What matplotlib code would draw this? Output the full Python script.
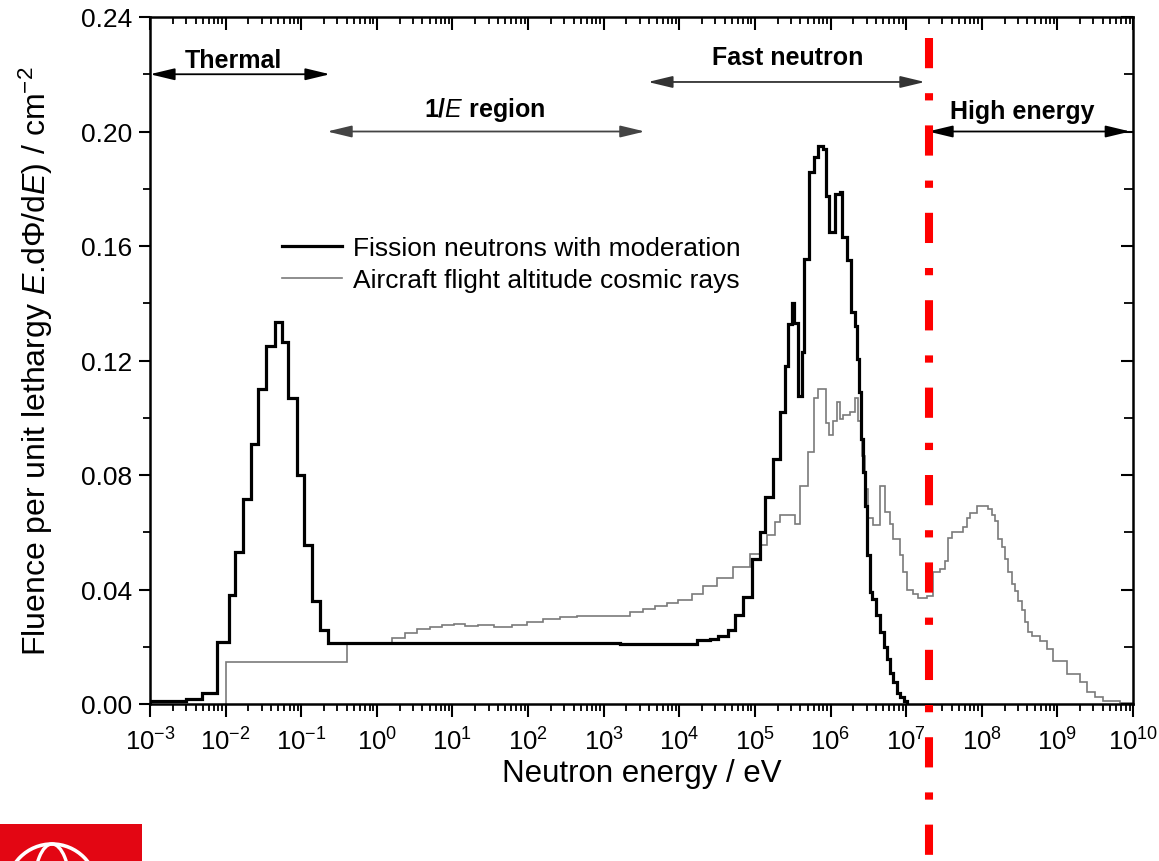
import numpy as np
import matplotlib
matplotlib.use("Agg")
import matplotlib.pyplot as plt
from matplotlib.ticker import LogLocator, MultipleLocator, FormatStrFormatter, NullFormatter
from matplotlib.lines import Line2D
from matplotlib.patches import Rectangle, Circle, Ellipse, Arc

# ---------------- data ----------------
# Fission neutrons with moderation: log10(E/eV) bin edges and values
fission_log_edges = [-3.0, -2.524, -2.312, -2.114, -1.955, -1.876, -1.770, -1.664, -1.572, -1.466,
                     -1.347, -1.254, -1.175, -1.056, -0.963, -0.858, -0.752, -0.646, 1.496, 3.215,
                     4.234, 4.405, 4.511, 4.644, 4.736, 4.842, 4.961, 5.067, 5.133, 5.239,
                     5.331, 5.397, 5.437, 5.490, 5.516, 5.569, 5.622, 5.648, 5.715, 5.781,
                     5.834, 5.900, 5.940, 5.979, 6.058, 6.125, 6.151, 6.217, 6.270, 6.323,
                     6.349, 6.376, 6.402, 6.429, 6.455, 6.482, 6.521, 6.548, 6.601, 6.653,
                     6.706, 6.746, 6.786, 6.825, 6.878, 6.918, 6.971, 7.010]
fission_values = [0.0009, 0.0017, 0.0038, 0.0216, 0.038, 0.053, 0.0716, 0.091, 0.110, 0.125,
                  0.1334, 0.1265, 0.107, 0.080, 0.0555, 0.036, 0.026, 0.0213, 0.0212, 0.0210,
                  0.0222, 0.0227, 0.0238, 0.026, 0.031, 0.0373, 0.0507, 0.060, 0.0723, 0.0856,
                  0.102, 0.118, 0.1327, 0.140, 0.133, 0.1076, 0.123, 0.1555, 0.186, 0.191,
                  0.195, 0.194, 0.1775, 0.165, 0.178, 0.179, 0.163, 0.155, 0.137, 0.132,
                  0.1205, 0.109, 0.0926, 0.081, 0.069, 0.052, 0.039, 0.0367, 0.031, 0.025,
                  0.020, 0.0157, 0.011, 0.0077, 0.004, 0.0024, 0.001]

# Aircraft flight altitude cosmic rays
cosmic_log_edges = [-2.0, -0.395, 0.200, 0.372, 0.531, 0.703, 0.861, 1.020, 1.166, 1.337,
                    1.549, 1.787, 1.985, 2.197, 2.422, 2.647, 3.348, 3.519, 3.678, 3.837,
                    3.982, 4.167, 4.313, 4.498, 4.710, 4.934, 5.067, 5.159, 5.265, 5.331,
                    5.529, 5.596, 5.701, 5.781, 5.834, 5.940, 5.979, 6.032, 6.085, 6.125,
                    6.164, 6.257, 6.323, 6.363, 6.415, 6.455, 6.495, 6.561, 6.653, 6.720,
                    6.786, 6.825, 6.918, 6.958, 7.010, 7.090, 7.156, 7.275, 7.354, 7.447,
                    7.513, 7.553, 7.606, 7.751, 7.804, 7.844, 7.936, 8.082, 8.135, 8.174,
                    8.214, 8.267, 8.307, 8.346, 8.399, 8.439, 8.478, 8.531, 8.571, 8.611,
                    8.664, 8.769, 8.862, 8.941, 9.126, 9.298, 9.391, 9.497, 9.602, 9.827,
                    10.0]
cosmic_values = [0.0147, 0.0213, 0.023, 0.0248, 0.0262, 0.0268, 0.0276, 0.028, 0.0272, 0.0276,
                 0.0270, 0.0276, 0.0286, 0.0297, 0.0303, 0.0308, 0.0321, 0.0332, 0.0343, 0.0352,
                 0.0364, 0.0384, 0.0412, 0.044, 0.048, 0.0524, 0.0555, 0.059, 0.0636, 0.066,
                 0.063, 0.076, 0.088, 0.107, 0.110, 0.098, 0.094, 0.099, 0.1055, 0.0995,
                 0.101, 0.102, 0.107, 0.099, 0.0866, 0.075, 0.065, 0.0625, 0.076, 0.067,
                 0.063, 0.0577, 0.052, 0.046, 0.040, 0.0384, 0.037, 0.0377, 0.046, 0.047,
                 0.050, 0.058, 0.060, 0.0618, 0.065, 0.0667, 0.069, 0.068, 0.066, 0.064,
                 0.0577, 0.055, 0.0507, 0.046, 0.042, 0.0395, 0.036, 0.033, 0.0286, 0.025,
                 0.0238, 0.022, 0.0192, 0.015, 0.0105, 0.0077, 0.0042, 0.0024, 0.001, 0.0005]

series_labels = ["Fission neutrons with moderation", "Aircraft flight altitude cosmic rays"]

# Energy regions: (label, start eV, end eV, arrow height)
region_labels = ["Thermal", "1/$\\mathbf{\\mathit{E}}$ region", "Fast neutron", "High energy"]
region_start = [1e-3, 0.22, 3.85e3, 1.95e7]
region_end = [0.24, 3.5e3, 1.77e7, 9.2e9]
region_arrow_y = [0.220, 0.200, 0.2173, 0.200]
region_text_x = [1.26e-2, 27.0, 2.7e5, 3.4e8]
region_text_y = [0.2225, 0.2055, 0.2235, 0.2048]
region_arrow_color = ["black", "#444444", "#333333", "black"]

cutoff_energy = 2e7  # eV

# ---------------- style ----------------
plt.rcParams["font.family"] = ["Liberation Sans", "DejaVu Sans"]
plt.rcParams["mathtext.fontset"] = "custom"
plt.rcParams["mathtext.rm"] = "Liberation Sans"
plt.rcParams["mathtext.it"] = "Liberation Sans:italic"
plt.rcParams["mathtext.bf"] = "Liberation Sans:bold:italic"

W, H = 1159, 862
fig = plt.figure(figsize=(W / 100, H / 100), dpi=100)
pos = [150 / W, 1 - 705 / H, 983 / W, 687 / H]
ax = fig.add_axes(pos)
ax.set_xscale("log")
ax.set_xlim(1e-3, 1e10)
ax.set_ylim(0, 0.24)

ax.stairs(cosmic_values, 10 ** np.array(cosmic_log_edges), color="#7a7a7a", lw=1.2, zorder=2)
ax.stairs(fission_values, 10 ** np.array(fission_log_edges), color="black", lw=2.3, zorder=3)

handles = [Line2D([], [], color="black", lw=2.3), Line2D([], [], color="#7a7a7a", lw=1.2)]
ax.legend(handles, series_labels, loc="upper left", bbox_to_anchor=(0.134, 0.681),
          frameon=False, fontsize=19, handlelength=2.3, handletextpad=0.4,
          borderaxespad=0, borderpad=0, labelspacing=0.3)

# ticks
ax.xaxis.set_major_locator(LogLocator(base=10, numticks=30))
ax.xaxis.set_minor_locator(LogLocator(base=10, subs=np.arange(2, 10), numticks=300))
ax.xaxis.set_minor_formatter(NullFormatter())
ax.yaxis.set_major_locator(MultipleLocator(0.04))
ax.yaxis.set_minor_locator(MultipleLocator(0.02))
ax.yaxis.set_major_formatter(FormatStrFormatter("%.2f"))
ax.tick_params(which="major", direction="out", length=8, width=1.5, labelsize=19,
               top=False, right=False)
ax.tick_params(axis="y", which="major", pad=5)
ax.tick_params(axis="x", which="major", length=9.5, pad=7, labelsize=18.5)
ax.tick_params(which="minor", direction="out", length=5, width=1.3, top=False, right=False)
for s in ax.spines.values():
    s.set_linewidth(1.8)

ax2 = fig.add_axes(pos, frameon=False)
ax2.set_xscale("log")
ax2.set_xlim(ax.get_xlim())
ax2.set_ylim(ax.get_ylim())
ax2.xaxis.set_major_locator(LogLocator(base=10, numticks=30))
ax2.xaxis.set_minor_locator(LogLocator(base=10, subs=np.arange(2, 10), numticks=300))
ax2.yaxis.set_major_locator(MultipleLocator(0.04))
ax2.yaxis.set_minor_locator(MultipleLocator(0.02))
ax2.tick_params(which="both", direction="in", top=True, right=True, bottom=False, left=False,
                labeltop=False, labelright=False, labelbottom=False, labelleft=False)
ax2.tick_params(which="major", length=9, width=1.5)
ax2.tick_params(which="minor", length=5, width=1.3)
ax2.tick_params(axis="y", which="minor", length=6.5)
ax2.patch.set_visible(False)

# labels
ax.set_xlabel("Neutron energy / eV", fontsize=22.5)
ax.xaxis.set_label_coords(0.5, -0.078)
ax.set_ylabel("Fluence per unit lethargy $E$.d$\\mathit{Φ}$/d$E$) / cm$^{-2}$", fontsize=23)
ax.yaxis.set_label_coords(-0.097, 0.5)

# region arrows and text
for lab, e0, e1, ya, tx, ty, c in zip(region_labels, region_start, region_end, region_arrow_y,
                                      region_text_x, region_text_y, region_arrow_color):
    ax.annotate("", xy=(e1, ya), xytext=(e0, ya),
                arrowprops=dict(arrowstyle="<|-|>,head_length=0.75,head_width=0.18",
                                color=c, lw=1.3, shrinkA=0, shrinkB=0, mutation_scale=20),
                zorder=4, annotation_clip=False)
    ax.text(tx, ty, lab, ha="center", va="baseline", fontsize=18, fontweight="bold")

# red dash-dot cut-off line (extends below axes)
ax.plot([cutoff_energy, cutoff_energy], [0.2325, -0.06], color="#ff0000", lw=5.8,
        linestyle=(0, (3.75, 3.1, 0.9, 3.1)), dash_capstyle="butt", clip_on=False, zorder=6)

# logo (decoration) in pixel overlay
ov = fig.add_axes([0, 0, 1, 1], frameon=False)
ov.set_xlim(0, W)
ov.set_ylim(H, 0)
ov.axis("off")
ov.add_patch(Rectangle((0, 825), 142, 40, color="#e30613", lw=0))
ov.add_patch(Circle((52, 890), 45, fill=False, ec="white", lw=2.6))
ov.add_patch(Ellipse((52, 890), 36, 90, fill=False, ec="white", lw=2.4))
ov.add_patch(Arc((52, 905), 110, 110, theta1=30, theta2=150, ec="white", lw=2.4))

fig.savefig("out.png", dpi=100)
